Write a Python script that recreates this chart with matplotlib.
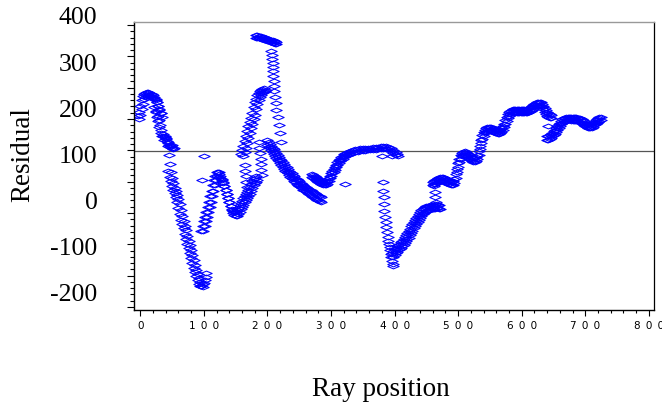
import numpy as np
import matplotlib
matplotlib.use("Agg")
import matplotlib.pyplot as plt
from matplotlib.path import Path
from matplotlib.ticker import FixedLocator, MultipleLocator, FuncFormatter

# values, piece by piece along the ray
hump_x = np.arange(-4, 33, 2)
hump_y = [187, 195, 208, 220, 230, 235, 237, 238, 238, 237, 235, 233, 231, 228, 223, 216, 208, 200, 192]

drop_x = np.arange(22, 51, 2)
drop_y = [205, 195, 185, 175, 163, 150, 142, 148, 144, 138, 132, 127, 124, 122, 124]

fall_x = np.arange(44, 95, 2)
fall_y = [68, 55, 45, 35, 27, 20, 10, 0, -14, -26, -38, -47, -57, -69, -80, -90,
          -100, -111, -122, -133, -143, -152, -161, -170, -177, -181]

trough_x = [96, 98, 100, 102, 104, 104]
trough_y = [-182, -178, -176, -170, -163, -153]

rise_x = np.arange(96, 121, 2)
rise_y = [-62, -52, -42, -32, -21, -10, 1, 12, 24, 36, 47, 57, 64]

wave_x = np.arange(122, 183, 2)
wave_y = [64, 61, 56, 50, 43, 35, 26, 17, 8, 0, -8, -15, -20, -22, -21, -18, -13, -7, -2, 3,
          8, 13, 18, 22, 27, 33, 40, 45, 50, 53, 56]

climb_x = np.arange(158, 195, 2)
climb_y = [104, 112, 122, 132, 143, 154, 165, 174, 183, 193, 205, 216, 224, 231, 236, 240, 243, 245, 246]

col189_x = [186, 187, 188, 189, 190, 190, 191]
col189_y = [130, 118, 106, 94, 82, 70, 58]

col166_x = [165, 165, 166, 166, 167]
col166_y = [80, 68, 56, 44, 32]

top_x = np.arange(182, 215, 2)
top_y = [361, 361, 360, 360, 359, 358, 357, 356, 355, 354, 353, 352, 351, 350, 349, 348, 347]

spike_x = [206, 207, 207, 208, 208, 209, 209, 210, 210, 211, 212, 213, 214, 216, 218, 220, 222]
spike_y = [327, 318, 310, 301, 292, 284, 273, 262, 251, 240, 227, 214, 199, 184, 167, 149, 130]

slide_x = np.arange(200, 285, 2)
slide_y = [134, 130, 126, 122, 118, 114, 110, 106, 102, 98, 94, 90, 86, 82, 78, 75, 72, 68, 65, 62,
           59, 56, 53, 50, 47, 45, 42, 40, 37, 35, 33, 31, 29, 27, 25, 23, 21, 19, 17, 15, 14, 12, 11]

hook_x = list(range(270, 331, 2)) + list(range(334, 403, 4))
hook_y = [60, 58, 56, 54, 52, 50, 48, 46, 44, 43, 42, 43, 46, 51, 57, 63, 68, 72, 76, 81,
          86, 90, 94, 97, 100, 103, 105, 107, 108, 109, 110, 112, 114, 115, 116, 117, 117, 118,
          118, 119, 119, 120, 121, 121, 121, 120, 117, 112, 108]

col390_x = [381, 382, 383, 383, 384, 385, 386, 387, 388, 389, 390, 391, 392, 393, 394, 395, 396, 397, 397]
col390_y = [43, 24, 10, -4, -19, -33, -44, -55, -66, -76, -84, -91, -98, -105, -113, -120, -127, -134, -139]

recover_x = np.arange(396, 471, 2)
recover_y = [-110, -106, -102, -99, -96, -93, -90, -87, -84, -80, -76, -72, -68, -63, -58, -53, -48, -43,
             -38, -34, -30, -26, -22, -18, -15, -12, -10, -9, -8, -8, -7, -7, -6, -6, -5, -5, -6, -7]

col463_x = [462, 463, 464, 465]
col463_y = [34, 22, 10, 0]

stairs_x = np.arange(460, 647, 2)
stairs_y = [44, 46, 48, 50, 52, 53, 54, 54, 54, 53, 52, 50, 48, 46, 45, 44, 45, 50, 60, 72,
            84, 94, 102, 107, 109, 110, 109, 107, 104, 101, 98, 96, 95, 95, 97, 102, 110, 122, 135, 145,
            152, 157, 160, 162, 163, 163, 162, 161, 160, 158, 157, 156, 156, 157, 160, 164, 170, 177, 184, 190,
            195, 198, 200, 201, 201, 201, 201, 201, 201, 201, 201, 201, 201, 201, 201, 202, 203, 205, 207, 210,
            213, 215, 216, 217, 217, 216, 213, 209, 204, 199, 195, 192, 190, 189]

tail_x = np.arange(640, 725, 2)
tail_y = [142, 143, 145, 147, 150, 153, 156, 160, 164, 168, 172, 176, 179, 181, 183, 184, 185, 185, 185, 184,
          184, 184, 184, 184, 183, 182, 181, 179, 177, 175, 172, 170, 169, 168, 168, 169, 171, 174, 177, 180,
          182, 184, 185]

stray_x = [43, 45, 46, 100, 97, 322, 380, 396, 404, 406, 642]
stray_y = [121, 102, 82, 100, 48, 39, 100, 100, 104, 100, 165]

# spread of the thick bands (second ray drawn alongside), read as (dx, dy)
hump_spread = (2, -7)
drop_spread = (3, -8)
fall_spread = (4, -4)
rise_spread = (3, 0)
wave_spread = (2, -9)
climb_spread = (4, -4)
top_spread = (0, -5)
slide_spread = (0, -10)
hook_spread = (0, -6)
recover_spread = (2, -9)
stairs_spread = (0, -8)
tail_spread = (0, -8)

ref_level = 111
ytick_labels = [400, 300, 200, 100, 0, -100, -200]

pieces = [(hump_x, hump_y, hump_spread), (drop_x, drop_y, drop_spread),
          (fall_x, fall_y, fall_spread), (trough_x, trough_y, None),
          (rise_x, rise_y, rise_spread), (wave_x, wave_y, wave_spread),
          (climb_x, climb_y, climb_spread), (col189_x, col189_y, None),
          (col166_x, col166_y, None), (top_x, top_y, top_spread),
          (spike_x, spike_y, None), (slide_x, slide_y, slide_spread),
          (hook_x, hook_y, hook_spread), (col390_x, col390_y, None),
          (recover_x, recover_y, recover_spread), (col463_x, col463_y, None),
          (stairs_x, stairs_y, stairs_spread), (tail_x, tail_y, tail_spread),
          (stray_x, stray_y, None)]

# flat open diamond like the original plot symbol
diamond = Path([(-1, 0), (0, 0.42), (1, 0), (0, -0.42), (-1, 0)], closed=True)
mk = dict(linestyle="none", marker=diamond, markersize=8.2, markerfacecolor="none",
          markeredgecolor="#0000ff", markeredgewidth=0.75)

fig = plt.figure(figsize=(6.62, 4.06), dpi=100)
ax = fig.add_axes([134 / 662, 1 - 311 / 406, 520 / 662, 288 / 406])

for px, py, spread in pieces:
    ax.plot(px, py, **mk)
    if spread is not None:
        ax.plot(np.asarray(px) + spread[0], np.asarray(py) + spread[1], **mk)

ax.axhline(ref_level, color="#555555", linewidth=0.9, zorder=0)

ax.set_xlim(-10, 808)
ax.set_ylim(-234, 390)

# y ticks do not line up with the labels in the original, so keep them separate
ax.yaxis.set_major_locator(FixedLocator(np.linspace(-227.5, 383.5, 10)))
ax.yaxis.set_minor_locator(FixedLocator(np.linspace(-227.5, 383.5, 46)))
ax.set_yticklabels([])
for v in ytick_labels:
    ax.text(-0.07, v, str(v), transform=ax.get_yaxis_transform(), ha="right", va="center",
            fontsize=18.5, family="Liberation Serif")

# x tick labels are drawn letter-spaced in the original
ax.xaxis.set_major_locator(MultipleLocator(100))
ax.xaxis.set_minor_locator(MultipleLocator(20))
ax.xaxis.set_major_formatter(FuncFormatter(lambda v, pos: "\u2002".join(str(int(v)))))

ax.tick_params(axis="y", which="major", direction="out", length=5.2, width=0.8)
ax.tick_params(axis="y", which="minor", direction="out", length=2.9, width=0.8)
ax.tick_params(axis="x", which="major", direction="out", length=4.2, width=0.8, pad=3.0, labelsize=7.5)
ax.tick_params(axis="x", which="minor", direction="out", length=2.4, width=0.8)

ax.spines["left"].set_linewidth(1.0)
ax.spines["bottom"].set_linewidth(1.0)
ax.spines["right"].set_linewidth(0.9)
ax.spines["top"].set_color("#999999")
ax.spines["top"].set_linewidth(1.0)

ax.set_xlabel("Ray position", fontsize=19.5, family="Liberation Serif")
ax.xaxis.set_label_coords((381 - 134) / 520, (311 - 390) / 288)
ax.set_ylabel("Residual", fontsize=19.5, family="Liberation Serif")
ax.yaxis.set_label_coords((23 - 134) / 520, (311 - 155) / 288)
ax.xaxis.label.set_va("center")
ax.yaxis.label.set_va("center")

fig.savefig("out.png", dpi=100)
